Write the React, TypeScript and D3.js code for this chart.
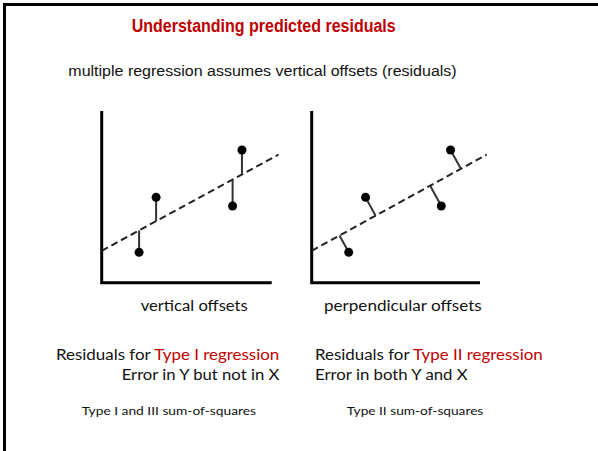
import React from "react";
import * as d3 from "d3";

const title = "Understanding predicted residuals";
const subtitle = "multiple regression assumes vertical offsets (residuals)";
const pointX = [2.2, 3.2, 7.7, 8.25];
const pointY = [1.77, 4.97, 4.47, 7.73];
const fitLineX = [0, 10.4];
const fitLineY = [1.86, 7.46];
const panelLabels = ["vertical offsets", "perpendicular offsets"];

const W = 598;
const H = 451;

type Panel = { x0: number; x1: number; kind: "vertical" | "perpendicular" };
const panels: Panel[] = [
  { x0: 101.7, x1: 271.7, kind: "vertical" },
  { x0: 311.7, x1: 480, kind: "perpendicular" },
];

const calibri = "Lato, 'Open Sans', sans-serif";

function PanelView({ p, label, labelX, labelLen }: { p: Panel; label: string; labelX: number; labelLen: number }) {
  const x = d3.scaleLinear().domain([0, 10]).range([p.x0, p.x1]);
  const y = d3.scaleLinear().domain([0, 10]).range([282.7, 111]);
  const lx0 = x(fitLineX[0]), ly0 = y(fitLineY[0]);
  const lx1 = x(fitLineX[1]), ly1 = y(fitLineY[1]);
  const line = d3.line<[number, number]>()([[lx0, ly0], [lx1, ly1]]) || "";
  const dx = lx1 - lx0, dy = ly1 - ly0;
  const len2 = dx * dx + dy * dy;
  const residuals = pointX.map((vx, i) => {
    const px = x(vx), py = y(pointY[i]);
    if (p.kind === "vertical") {
      const t = (px - lx0) / dx;
      return { px, py, fx: px, fy: ly0 + t * dy };
    }
    const t = ((px - lx0) * dx + (py - ly0) * dy) / len2;
    return { px, py, fx: lx0 + t * dx, fy: ly0 + t * dy };
  });
  return (
    <g>
      <path
        d={`M${x(0)},${y(10)}V${y(0)}H${x(10)}`}
        fill="none"
        stroke="#000"
        strokeWidth={3}
      />
      <path d={line} stroke="#222" strokeWidth={2} strokeDasharray="7,4" fill="none" />
      {residuals.map((r, i) => (
        <line key={"r" + i} x1={r.px} y1={r.py} x2={r.fx} y2={r.fy} stroke="#333" strokeWidth={2} />
      ))}
      {residuals.map((r, i) => (
        <circle key={"c" + i} cx={r.px} cy={r.py} r={4.5} fill="#000" />
      ))}
      <text
        x={labelX}
        y={310.5}
        fontFamily={calibri}
        fontSize={15.5}
        fill="#111"
        textLength={labelLen}
        lengthAdjust="spacingAndGlyphs"
      >
        {label}
      </text>
    </g>
  );
}

export default function App() {
  return (
    <svg
      width={W}
      height={H}
      style={{ position: "absolute", left: 0, top: 0, background: "#fff" }}
    >
      <rect x={0} y={0} width={W} height={H} fill="#fff" />
      <line x1={4.5} y1={3} x2={4.5} y2={H} stroke="#000" strokeWidth={3} />
      <line x1={3} y1={4.5} x2={W} y2={4.5} stroke="#000" strokeWidth={3} />
      <text
        x={131.7}
        y={32.3}
        fontFamily="'Liberation Sans', Arial, sans-serif"
        fontWeight="bold"
        fontSize={17.5}
        fill="#c00000"
        textLength={264}
        lengthAdjust="spacingAndGlyphs"
      >
        {title}
      </text>
      <text
        x={68.3}
        y={76}
        fontFamily="'Liberation Sans', Arial, sans-serif"
        fontSize={15.5}
        fill="#111"
        textLength={388.4}
        lengthAdjust="spacingAndGlyphs"
      >
        {subtitle}
      </text>
      <PanelView p={panels[0]} label={panelLabels[0]} labelX={140.7} labelLen={107} />
      <PanelView p={panels[1]} label={panelLabels[1]} labelX={324} labelLen={157.7} />
      <g fontFamily={calibri} fontSize={15.5} fill="#111">
        <text x={56} y={360} textLength={223.3} lengthAdjust="spacingAndGlyphs">
          Residuals for <tspan fill="#c00000">Type I regression</tspan>
        </text>
        <text x={121.7} y={380} textLength={157.6} lengthAdjust="spacingAndGlyphs">
          Error in Y but not in X
        </text>
        <text x={315} y={360} textLength={227.7} lengthAdjust="spacingAndGlyphs">
          Residuals for <tspan fill="#c00000">Type II regression</tspan>
        </text>
        <text x={315} y={380} textLength={152.7} lengthAdjust="spacingAndGlyphs">
          Error in both Y and X
        </text>
        <text x={81.7} y={414.5} fontSize={12} textLength={174.3} lengthAdjust="spacingAndGlyphs">
          Type I and III sum-of-squares
        </text>
        <text x={346.7} y={414.5} fontSize={12} textLength={136.6} lengthAdjust="spacingAndGlyphs">
          Type II sum-of-squares
        </text>
      </g>
    </svg>
  );
}
